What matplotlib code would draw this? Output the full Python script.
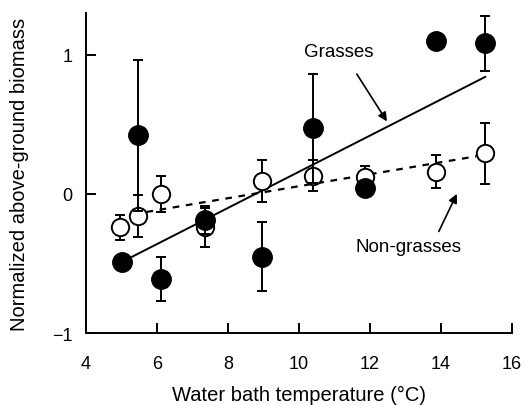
import matplotlib
matplotlib.use('Agg')
import matplotlib.pyplot as plt

# данные: температура и нормированная биомасса
grass_t = [5.0, 5.45, 6.1, 7.35, 8.95, 10.4, 11.85, 13.85, 15.25]
grass_b = [-0.49, 0.42, -0.61, -0.19, -0.45, 0.47, 0.04, 1.10, 1.08]
grass_err = [0.0, 0.54, 0.16, 0.10, 0.25, 0.39, 0.0, 0.0, 0.20]

non_t = [4.95, 5.45, 6.1, 7.35, 8.95, 10.4, 11.85, 13.85, 15.25]
non_b = [-0.24, -0.16, 0.0, -0.24, 0.09, 0.13, 0.12, 0.16, 0.29]
non_err = [0.09, 0.15, 0.13, 0.14, 0.15, 0.11, 0.08, 0.12, 0.22]

# линии регрессии (концы)
grass_fit_t = [5.0, 15.25]
grass_fit_b = [-0.49, 0.84]
non_fit_t = [5.7, 15.0]
non_fit_b = [-0.13, 0.27]

plt.rcParams['font.family'] = ['Liberation Sans', 'DejaVu Sans']

fig = plt.figure(figsize=(5.25, 4.06), dpi=100)
ax = fig.add_axes([0.164, 0.177, 0.811, 0.789])

ax.plot(grass_fit_t, grass_fit_b, color='black', lw=1.4, zorder=1)
ax.plot(non_fit_t, non_fit_b, color='black', lw=1.6, ls=(0, (3, 3)), zorder=1)

ax.errorbar(non_t, non_b, yerr=non_err, fmt='o', ms=12.5, mfc='white', mec='black',
            mew=1.4, ecolor='black', elinewidth=1.4, capsize=3.5, capthick=1.4, zorder=2)
ax.errorbar(grass_t, grass_b, yerr=grass_err, fmt='o', ms=14, mfc='black', mec='black',
            ecolor='black', elinewidth=1.4, capsize=3.5, capthick=1.4, zorder=3)

# подписи и стрелки
ax.text(11.13, 1.02, 'Grasses', ha='center', va='center', fontsize=13.5)
ax.annotate('', xy=(12.48, 0.52), xytext=(11.63, 0.86),
            arrowprops=dict(arrowstyle='-|>', color='black', lw=1.2,
                            mutation_scale=13, shrinkA=0, shrinkB=0))
ax.text(13.1, -0.38, 'Non-grasses', ha='center', va='center', fontsize=13.5)
ax.annotate('', xy=(14.45, 0.0), xytext=(13.94, -0.27),
            arrowprops=dict(arrowstyle='-|>', color='black', lw=1.2,
                            mutation_scale=13, shrinkA=0, shrinkB=0))

ax.set_xlim(4, 16)
ax.set_ylim(-1, 1.3)
ax.set_xticks([4, 6, 8, 10, 12, 14, 16])
ax.set_yticks([-1, 0, 1])
ax.set_yticklabels(['\u22121', '0', '1'])
ax.spines['top'].set_visible(False)
ax.spines['right'].set_visible(False)
for s in ['left', 'bottom']:
    ax.spines[s].set_linewidth(1.4)
ax.tick_params(direction='in', length=7, width=1.4, labelsize=13)
ax.tick_params(axis='x', pad=16)
ax.tick_params(axis='y', pad=10)

ax.set_xlabel('Water bath temperature (\u00b0C)', fontsize=14.5, labelpad=9)
ax.set_ylabel('Normalized above-ground biomass', fontsize=14.5, labelpad=16)

plt.savefig('out.png')
plt.close()
